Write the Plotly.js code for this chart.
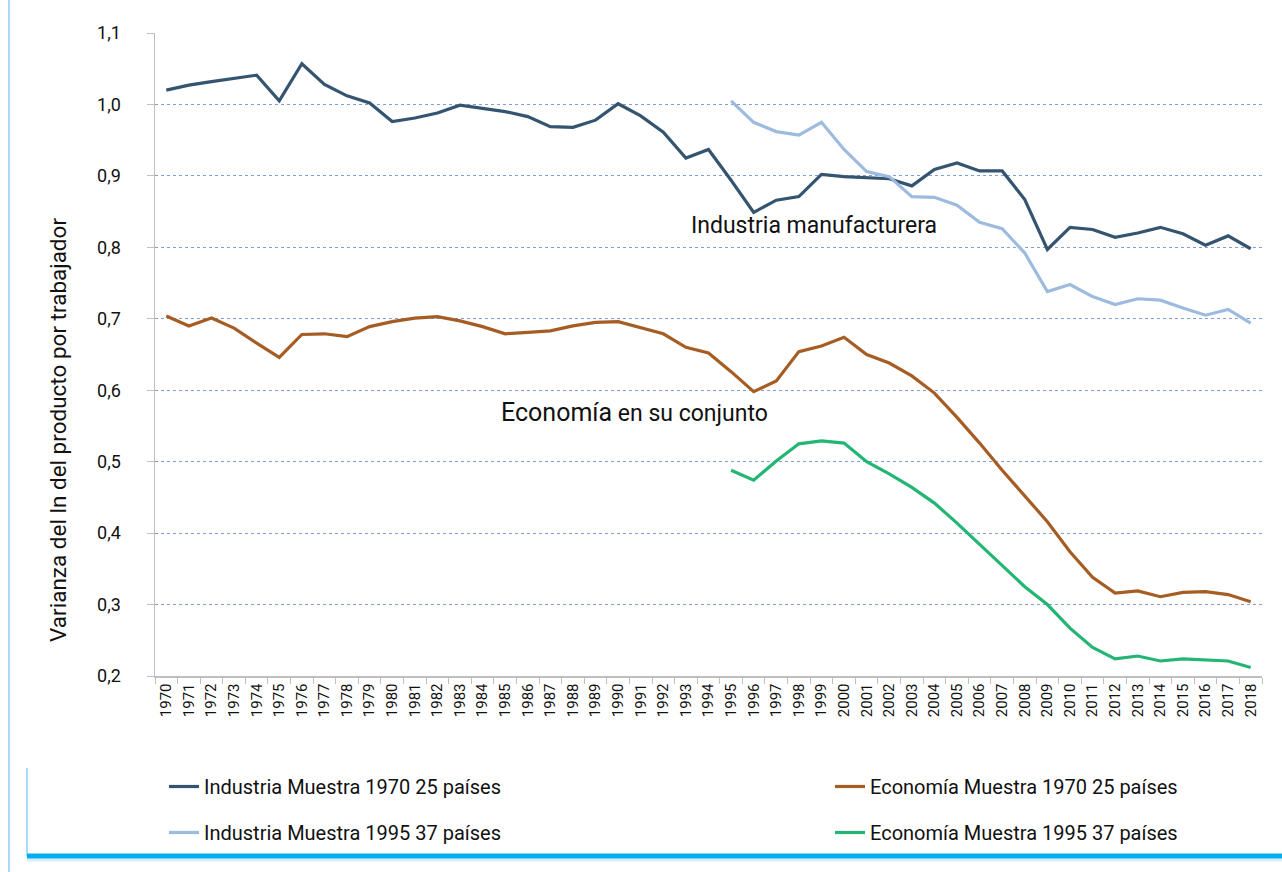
<!DOCTYPE html>
<html>
<head>
<meta charset="utf-8">
<script src="https://cdn.plot.ly/plotly-3.0.1.min.js"></script>
<style>
html,body{margin:0;padding:0;background:#fff;}
#chart{width:1282px;height:872px;}
</style>
</head>
<body>
<div id="chart"></div>
<script>
const years = [];
for (let y = 1970; y <= 2018; y++) years.push(String(y));
const years95 = years.slice(25);

const industria1970 = [1.020,1.027,1.032,1.037,1.041,1.005,1.057,1.028,1.012,1.002,
  0.976,0.981,0.988,0.999,0.995,0.990,0.983,0.969,0.968,0.978,
  1.001,0.984,0.961,0.925,0.937,0.894,0.849,0.866,0.871,0.902,
  0.899,0.898,0.896,0.886,0.909,0.918,0.907,0.907,0.867,0.797,
  0.828,0.825,0.814,0.820,0.828,0.819,0.803,0.816,0.798];
const industria1995 = [1.005,0.975,0.962,0.957,0.975,0.937,0.906,0.899,0.871,0.870,
  0.859,0.835,0.826,0.792,0.738,0.748,0.731,0.720,0.728,0.726,
  0.715,0.705,0.713,0.694];
const economia1970 = [0.704,0.690,0.701,0.687,0.666,0.646,0.678,0.679,0.675,0.689,
  0.696,0.701,0.703,0.697,0.689,0.679,0.681,0.683,0.690,0.695,
  0.696,0.688,0.679,0.660,0.652,0.626,0.598,0.613,0.654,0.662,
  0.674,0.650,0.638,0.620,0.596,0.562,0.526,0.488,0.452,0.416,
  0.374,0.338,0.316,0.319,0.311,0.317,0.318,0.314,0.304];
const economia1995 = [0.488,0.474,0.501,0.525,0.529,0.526,0.500,0.483,0.464,0.442,
  0.414,0.384,0.354,0.325,0.300,0.267,0.240,0.224,0.228,0.221,
  0.224,0.223,0.221,0.212];

const names = ["Industria Muestra 1970 25 países","Economía Muestra 1970 25 países",
  "Industria Muestra 1995 37 países","Economía Muestra 1995 37 países"];
const yTickVals = [0.2,0.3,0.4,0.5,0.6,0.7,0.8,0.9,1.0,1.1];

const FONT = "Roboto, 'Noto Sans', sans-serif";
const L = 155, R = 1262, T = 33, B = 676;
const W = 1282, H = 872;
const px = x => (x - L) / (R - L);
const py = y => (B - y) / (B - T);

const traces = [
  {x: years, y: industria1970, name: names[0], type: 'scatter', mode: 'lines',
   line: {color: '#34546f', width: 3.2}, legend: 'legend', legendgroup: 'a'},
  {x: years95, y: industria1995, name: names[2], type: 'scatter', mode: 'lines',
   line: {color: '#9dbbdf', width: 3.2}, legend: 'legend', legendgroup: 'b'},
  {x: years, y: economia1970, name: names[1], type: 'scatter', mode: 'lines',
   line: {color: '#a65d24', width: 3.2}, legend: 'legend2', legendgroup: 'c'},
  {x: years95, y: economia1995, name: names[3], type: 'scatter', mode: 'lines',
   line: {color: '#23b573', width: 3.2}, legend: 'legend2', legendgroup: 'd'}
];

const legendCommon = {
  orientation: 'v', xanchor: 'left', yanchor: 'top',
  font: {family: FONT, size: 20, color: '#111'},
  bgcolor: 'rgba(0,0,0,0)', tracegroupgap: 17, itemwidth: 30
};

const layout = {
  width: W, height: H,
  margin: {l: L, r: W - R, t: T, b: H - B},
  paper_bgcolor: '#fff', plot_bgcolor: '#fff',
  separators: ',.',
  showlegend: true,
  legend: Object.assign({}, legendCommon, {x: px(164), y: py(767)}),
  legend2: Object.assign({}, legendCommon, {x: px(830), y: py(767)}),
  xaxis: {
    type: 'category', range: [-0.5, 48.5],
    tickangle: -90, tickson: 'boundaries', ticks: 'outside', ticklen: 6,
    tickcolor: '#bfbfbf', showline: true, linecolor: '#bfbfbf', linewidth: 1.5,
    showgrid: false, zeroline: false,
    tickfont: {family: FONT, size: 15, color: '#111'}
  },
  yaxis: {
    range: [0.2, 1.1], tickvals: yTickVals, tickformat: '.1f',
    ticks: 'outside', ticklen: 7, tickcolor: '#bfbfbf', ticklabelstandoff: 22,
    showline: true, linecolor: '#bfbfbf', linewidth: 1.5,
    showgrid: true, gridcolor: '#7f9fd6', griddash: 'dot', gridwidth: 1,
    zeroline: false,
    tickfont: {family: FONT, size: 18, color: '#111'}
  },
  annotations: [
    {text: 'Varianza del ln del producto por trabajador', textangle: -90,
     xref: 'paper', yref: 'paper', x: px(58), y: py(430), xanchor: 'center', yanchor: 'middle',
     showarrow: false, font: {family: FONT, size: 22.5, color: '#111'}},
    {text: 'Industria manufacturera', xref: 'paper', yref: 'y',
     x: px(689), y: 0.831, xanchor: 'left', showarrow: false,
     font: {family: FONT, size: 23, color: '#111'}},
    {text: '<span style="font-size:25px">Economía</span> en su conjunto', xref: 'paper', yref: 'y',
     x: px(499), y: 0.5695, xanchor: 'left', showarrow: false,
     font: {family: FONT, size: 23, color: '#111'}}
  ],
  shapes: [
    {type: 'line', xref: 'paper', yref: 'paper', x0: px(9), x1: px(9), y0: py(0), y1: py(872),
     line: {color: '#a8dcf5', width: 2}},
    {type: 'line', xref: 'paper', yref: 'paper', x0: px(27), x1: px(27), y0: py(768), y1: py(856),
     line: {color: '#a8dcf5', width: 2}},
    {type: 'line', xref: 'paper', yref: 'paper', x0: px(27), x1: px(1282), y0: py(860), y1: py(860),
     line: {color: '#d6eefa', width: 3}},
    {type: 'line', xref: 'paper', yref: 'paper', x0: px(27), x1: px(1282), y0: py(856), y1: py(856),
     line: {color: '#00aeef', width: 5}}
  ]
};

Plotly.newPlot('chart', traces, layout, {displayModeBar: false, staticPlot: true});
</script>
</body>
</html>
